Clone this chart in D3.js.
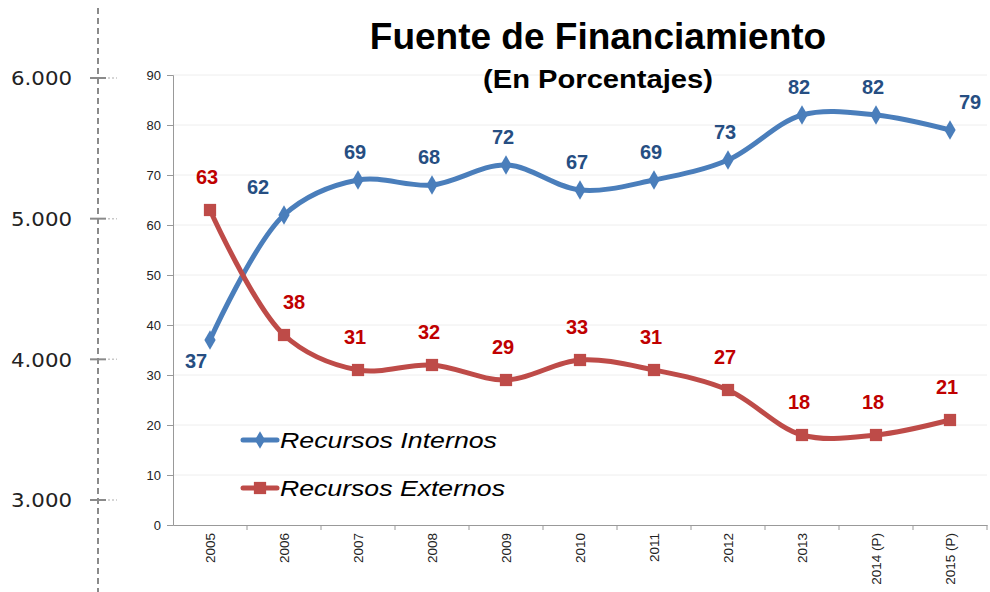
<!DOCTYPE html>
<html lang="es">
<head>
<meta charset="utf-8">
<title>Fuente de Financiamiento</title>
<style>
  body { margin: 0; background: #fff; }
  svg text { font-family: "Liberation Sans", Arial, sans-serif; }
</style>
</head>
<body>
<div id="chart"></div>
<script src="https://d3js.org/d3.v7.min.js"></script>
<script>
var years = ["2005", "2006", "2007", "2008", "2009", "2010", "2011", "2012", "2013", "2014 (P)", "2015 (P)"]
var internos = [37, 62, 69, 68, 72, 67, 69, 73, 82, 82, 79]
var externos = [63, 38, 31, 32, 29, 33, 31, 27, 18, 18, 21]
var yTicks = [0, 10, 20, 30, 40, 50, 60, 70, 80, 90]
var strayTicks = [3000, 4000, 5000, 6000]

var width = 990, height = 592

var svg = d3.select("#chart")
  .append("svg")
    .attr("width", width)
    .attr("height", height)

// leftover axis from another chart on the slide
var es = d3.formatLocale({decimal: ",", thousands: ".", grouping: [3], currency: ["", ""]})
var ys = d3.scaleLinear().domain([3000, 6000]).range([500, 78])

svg.append("line")
  .attr("x1", 98).attr("x2", 98)
  .attr("y1", 8).attr("y2", height)
  .attr("stroke", "#8a8a8a")
  .attr("stroke-width", 2)
  .attr("stroke-dasharray", "6,4")

var st = svg.selectAll(".stray").data(strayTicks).enter().append("g")
  .attr("transform", function(d) { return "translate(0," + ys(d) + ")" })
st.append("line")
  .attr("x1", 90).attr("x2", 106)
  .attr("stroke", "#8a8a8a").attr("stroke-width", 2)
st.append("line")
  .attr("x1", 108).attr("x2", 117)
  .attr("stroke", "#c8c8c8").attr("stroke-width", 1.5)
  .attr("stroke-dasharray", "2,2")
st.append("text")
  .attr("x", 11).attr("dy", "0.36em")
  .attr("textLength", 61).attr("lengthAdjust", "spacingAndGlyphs")
  .style("font-family", "'DejaVu Sans', Verdana, sans-serif")
  .style("font-size", "20px")
  .attr("fill", "#222")
  .text(function(d) { return es.format(",")(d) })

// main chart
var x = d3.scaleBand().domain(years).range([173, 987])
var y = d3.scaleLinear().domain([0, 90]).range([525, 75])
var cx = function(d, i) { return x(years[i]) + x.bandwidth() / 2 }

// gridlines
svg.append("g")
  .selectAll("line").data(yTicks.slice(1)).enter().append("line")
    .attr("x1", 173).attr("x2", 987)
    .attr("y1", function(d) { return y(d) }).attr("y2", function(d) { return y(d) })
    .attr("stroke", "#eeeeee")

var yAxis = svg.append("g")
  .attr("transform", "translate(173,0)")
  .call(d3.axisLeft(y).tickValues(yTicks).tickSize(6).tickPadding(6))
yAxis.select(".domain").attr("stroke", "#999")
yAxis.selectAll(".tick line").attr("stroke", "#999")
yAxis.selectAll("text").style("font-size", "13px").attr("fill", "#222")

var xAxis = svg.append("g")
  .attr("transform", "translate(0,525)")
  .call(d3.axisBottom(x).tickSize(0).tickSizeOuter(0))
xAxis.select(".domain").attr("stroke", "#999")
xAxis.selectAll(".tick text")
  .attr("transform", "rotate(-90)")
  .attr("x", -8).attr("y", 0).attr("dy", "0.35em")
  .attr("text-anchor", "end")
  .style("font-size", "13.5px")
  .attr("fill", "#222")
// tick marks between categories
xAxis.selectAll(".sep").data(years).enter().append("line")
  .attr("x1", function(d) { return x(d) + x.bandwidth() }).attr("x2", function(d) { return x(d) + x.bandwidth() })
  .attr("y1", 0).attr("y2", 5)
  .attr("stroke", "#999")

var line = d3.line()
  .x(cx)
  .y(function(d) { return y(d) })
  .curve(d3.curveCatmullRom.alpha(0.5))

var series = [
  {name: "Recursos Internos", values: internos, color: "#4a7ebb", label: "#264e82", symbol: d3.symbolDiamond, len: 217},
  {name: "Recursos Externos", values: externos, color: "#be4b48", label: "#c00000", symbol: d3.symbolSquare, len: 225}
]

series.forEach(function(s, k) {
  svg.append("path")
    .datum(s.values)
    .attr("d", line)
    .attr("fill", "none")
    .attr("stroke", s.color)
    .attr("stroke-width", 5)
    .attr("stroke-linejoin", "round")

  svg.selectAll(".m" + k).data(s.values).enter().append("path")
    .attr("d", d3.symbol().type(s.symbol).size(k == 0 ? 110 : 150))
    .attr("transform", function(d, i) { return "translate(" + cx(d, i) + "," + y(d) + ")" })
    .attr("fill", s.color)

  var last = s.values.length - 1
  svg.selectAll(".l" + k).data(s.values).enter().append("text")
    .attr("x", function(d, i) {
      var other = series[1 - k].values[i]
      if (k == 0 && d < other) return cx(d, i) - 14
      if (k == 0 && i == 1) return cx(d, i) - 26
      if (k == 0 && i == last) return cx(d, i) + 20
      if (k == 1 && i == 1) return cx(d, i) + 10
      return cx(d, i) - 3
    })
    .attr("y", function(d, i) {
      var other = series[1 - k].values[i]
      if (k == 0 && d < other) return y(d) + 28
      return y(d) - (k == 0 ? 21 : 26)
    })
    .attr("text-anchor", "middle")
    .style("font-size", "20px")
    .style("font-weight", "bold")
    .attr("fill", s.label)
    .text(function(d) { return d })
})

// legend
var lg = svg.selectAll(".legend").data(series).enter().append("g")
  .attr("transform", function(d, i) { return "translate(243," + (440 + i * 48) + ")" })
lg.append("line")
  .attr("x1", 0).attr("x2", 34)
  .attr("stroke", function(d) { return d.color })
  .attr("stroke-width", 5)
  .attr("stroke-linecap", "round")
lg.append("path")
  .attr("d", function(d, i) { return d3.symbol().type(d.symbol).size(i == 0 ? 90 : 150)() })
  .attr("transform", "translate(17,0)")
  .attr("fill", function(d) { return d.color })
lg.append("text")
  .attr("x", 37).attr("dy", "0.35em")
  .attr("textLength", function(d) { return d.len }).attr("lengthAdjust", "spacingAndGlyphs")
  .style("font-size", "22px")
  .style("font-style", "italic")
  .attr("fill", "#000")
  .text(function(d) { return d.name })

// titles
svg.append("text")
  .attr("x", 598).attr("y", 49)
  .attr("text-anchor", "middle")
  .style("font-size", "37px").style("font-weight", "bold")
  .text("Fuente de Financiamiento")
svg.append("text")
  .attr("x", 483).attr("y", 88)
  .attr("textLength", 230).attr("lengthAdjust", "spacingAndGlyphs")
  .style("font-size", "25px").style("font-weight", "bold")
  .text("(En Porcentajes)")
</script>
</body>
</html>
